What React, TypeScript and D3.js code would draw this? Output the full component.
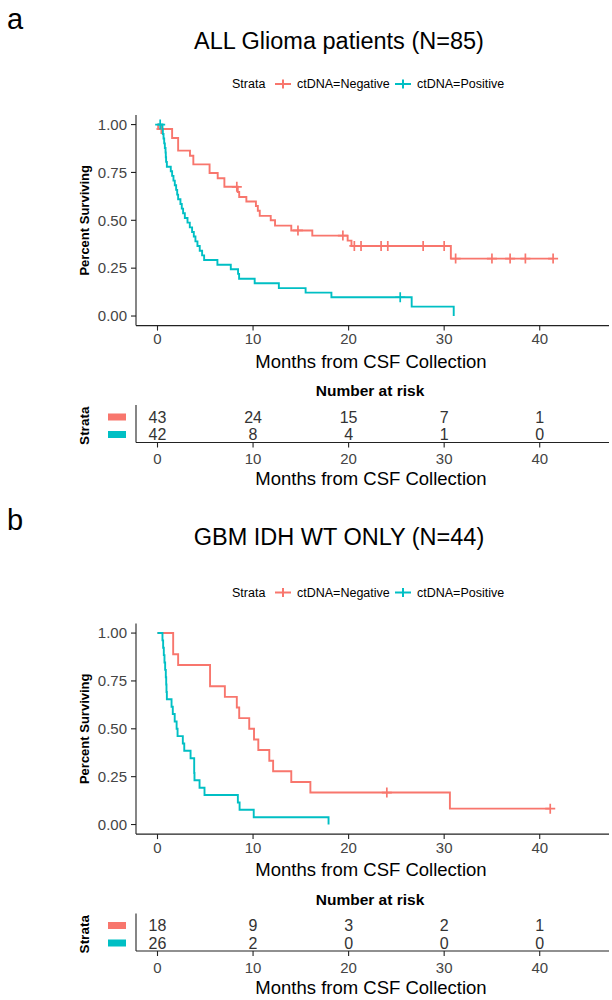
import React from 'react';
import * as d3 from 'd3';

// ---------- shared ----------
const strata = ['ctDNA=Negative', 'ctDNA=Positive'];
const colors = ['#F8766D', '#00BFC4'];
const xTicks = [0, 10, 20, 30, 40];
const yTicks = [0, 0.25, 0.5, 0.75, 1];
const yTickLabels = ['0.00', '0.25', '0.50', '0.75', '1.00'];

// ---------- panel a : ALL Glioma ----------
const aNegTimes = [0.07, 1.53, 2.16, 3.4, 3.75, 5.45, 6.3, 7.0, 8.4, 8.55, 9.3, 10.3, 10.5, 10.7, 11.85, 12.3, 14.0, 16.2, 19.9, 20.3, 30.7];
const aNegSurv = [0.977, 0.93, 0.864, 0.837, 0.792, 0.747, 0.72, 0.675, 0.648, 0.622, 0.598, 0.575, 0.55, 0.523, 0.5, 0.472, 0.447, 0.42, 0.394, 0.366, 0.3];
const aNegCensor = [0.4, 8.3, 14.7, 19.4, 20.6, 21.3, 23.4, 24.1, 27.8, 30.0, 31.2, 35.0, 36.9, 38.5, 41.4];

const aPosTimes = [0.52, 0.56, 0.63, 0.7, 0.77, 0.84, 0.87, 0.9, 0.98, 1.39, 1.53, 1.67, 1.81, 1.95, 2.06, 2.16, 2.4, 2.54, 2.68, 2.86, 3.14, 3.38, 3.62, 3.8, 3.97, 4.18, 4.42, 4.67, 4.88, 6.27, 7.67, 8.43, 8.54, 10.17, 12.7, 15.5, 18.2, 26.6, 31.0];
const aPosSurv = [0.976, 0.951, 0.927, 0.902, 0.878, 0.854, 0.829, 0.805, 0.78, 0.756, 0.732, 0.707, 0.683, 0.659, 0.634, 0.61, 0.585, 0.561, 0.537, 0.512, 0.488, 0.463, 0.439, 0.415, 0.39, 0.366, 0.341, 0.317, 0.293, 0.268, 0.244, 0.22, 0.195, 0.171, 0.146, 0.122, 0.098, 0.049, 0.0];
const aPosCensor = [0.28, 25.4];

const aRiskNeg = [43, 24, 15, 7, 1];
const aRiskPos = [42, 8, 4, 1, 0];

// ---------- panel b : GBM IDH WT ----------
const bNegTimes = [1.64, 2.16, 5.5, 7.05, 8.3, 8.55, 9.6, 10.1, 10.55, 11.7, 12.1, 14.0, 16.0, 30.6];
const bNegSurv = [0.889, 0.833, 0.722, 0.667, 0.611, 0.556, 0.5, 0.444, 0.389, 0.333, 0.278, 0.222, 0.167, 0.083];
const bNegCensor = [24.0, 41.1];

const bPosTimes = [0.52, 0.59, 0.66, 0.73, 0.8, 0.87, 0.91, 0.94, 0.98, 1.47, 1.6, 1.8, 2.0, 2.1, 2.65, 2.8, 3.46, 3.84, 3.87, 4.4, 4.92, 8.41, 8.59, 10.07, 17.9];
const bPosSurv = [0.962, 0.923, 0.885, 0.846, 0.808, 0.769, 0.731, 0.692, 0.654, 0.615, 0.577, 0.538, 0.5, 0.462, 0.423, 0.385, 0.346, 0.269, 0.231, 0.192, 0.154, 0.115, 0.077, 0.038, 0.0];
const bPosCensor: number[] = [];

const bRiskNeg = [18, 9, 3, 2, 1];
const bRiskPos = [26, 2, 0, 0, 0];

const FONT = 'Liberation Sans, Arial, Helvetica, sans-serif';

type Curve = { times: number[]; surv: number[]; censor: number[] };

function survAt(c: Curve, t: number) {
  let s = 1;
  for (let i = 0; i < c.times.length; i++) if (c.times[i] <= t) s = c.surv[i];
  return s;
}

function Panel(props: {
  dy: number;
  titleDy: number;
  letterDy: number;
  letter: string;
  title: string;
  curves: Curve[];
  risk: number[][];
}) {
  const { dy, titleDy, letterDy, letter, title, curves, risk } = props;
  const left = 136, right = 609;
  const x = d3.scaleLinear().domain([-2.25, 47.25]).range([left, right]);
  const top = 115 + dy, bottom = 325.6 + dy;
  const y = d3.scaleLinear().domain([-0.05, 1.05]).range([bottom, top]);
  const line = d3
    .line<[number, number]>()
    .x((d) => x(d[0]))
    .y((d) => y(d[1]))
    .curve(d3.curveStepAfter);

  const tickCol = '#444';
  const axisCol = '#222';

  // risk table geometry
  const rtTitleY = 396 + dy;
  const rowY = [417 + dy, 434.5 + dy];
  const rtAxisY = 442.5 + dy;
  const rtTop = 405 + dy;

  const legY = 84 + dy;

  return (
    <g>
      <text x={7} y={29 + letterDy} fontSize={29} fontFamily={FONT} fill="#000">{letter}</text>
      <text x={339} y={48.5 + titleDy} fontSize={23.5} fontFamily={FONT} textAnchor="middle" fill="#000">{title}</text>

      {/* legend */}
      <g fontFamily={FONT} fontSize={12.5} fill="#000">
        <text x={232} y={legY + 4.3}>Strata</text>
        {[0, 1].map((i) => {
          const cx = i === 0 ? 283 : 403;
          const tx = i === 0 ? 297 : 417;
          return (
            <g key={i}>
              <line x1={cx - 8} x2={cx + 8} y1={legY} y2={legY} stroke={colors[i]} strokeWidth={2} />
              <line x1={cx} x2={cx} y1={legY - 4.5} y2={legY + 4.5} stroke={colors[i]} strokeWidth={2} />
              <text x={tx} y={legY + 4.3}>{strata[i]}</text>
            </g>
          );
        })}
      </g>

      {/* curves */}
      {curves.map((c, i) => {
        const pts: [number, number][] = [[0, 1]];
        c.times.forEach((t, k) => pts.push([t, c.surv[k]]));
        const end = Math.max(c.times[c.times.length - 1], ...(c.censor.length ? c.censor : [0]));
        if (end > c.times[c.times.length - 1]) pts.push([end, c.surv[c.surv.length - 1]]);
        return (
          <g key={i}>
            <path d={line(pts) || ''} fill="none" stroke={colors[i]} strokeWidth={1.9} />
            {c.censor.map((t, k) => (
              <path
                key={k}
                transform={`translate(${x(t)},${y(survAt(c, t))})`}
                d="M-5,0H5M0,-5V5"
                stroke={colors[i]}
                strokeWidth={1.7}
                fill="none"
              />
            ))}
          </g>
        );
      })}

      {/* axes */}
      <line x1={left} x2={left} y1={top} y2={bottom} stroke={axisCol} strokeWidth={1.1} />
      <line x1={left} x2={right} y1={bottom} y2={bottom} stroke={axisCol} strokeWidth={1.1} />
      {yTicks.map((v, k) => (
        <g key={k}>
          <line x1={left - 5} x2={left} y1={y(v)} y2={y(v)} stroke={axisCol} strokeWidth={1.1} />
          <text x={127} y={y(v) + 5.3} fontSize={15} fontFamily={FONT} textAnchor="end" fill={tickCol}>{yTickLabels[k]}</text>
        </g>
      ))}
      {xTicks.map((v) => (
        <g key={v}>
          <line x1={x(v)} x2={x(v)} y1={bottom} y2={bottom + 5} stroke={axisCol} strokeWidth={1.1} />
          <text x={x(v)} y={bottom + 18.5} fontSize={15} fontFamily={FONT} textAnchor="middle" fill={tickCol}>{v}</text>
        </g>
      ))}
      <text x={371} y={367.5 + dy} fontSize={18.5} fontFamily={FONT} textAnchor="middle" fill="#000">Months from CSF Collection</text>
      <text
        transform={`translate(88.5,${(top + bottom) / 2}) rotate(-90)`}
        fontSize={13}
        fontWeight="bold"
        fontFamily={FONT}
        textAnchor="middle"
        fill="#000"
      >Percent Surviving</text>

      {/* risk table */}
      <text x={370} y={rtTitleY} fontSize={15.5} fontWeight="bold" fontFamily={FONT} textAnchor="middle" fill="#000">Number at risk</text>
      <line x1={left} x2={left} y1={rtTop} y2={rtAxisY} stroke={axisCol} strokeWidth={1.1} />
      <line x1={left} x2={right} y1={rtAxisY} y2={rtAxisY} stroke={axisCol} strokeWidth={1.1} />
      {risk.map((row, r) => (
        <g key={r}>
          <rect x={108} y={rowY[r] - 3.5} width={18} height={7} fill={colors[r]} />
          {row.map((n, k) => (
            <text key={k} x={x(xTicks[k])} y={rowY[r] + 5.8} fontSize={16} fontFamily={FONT} textAnchor="middle" fill="#333">{n}</text>
          ))}
        </g>
      ))}
      <text
        transform={`translate(89,${(rowY[0] + rowY[1]) / 2}) rotate(-90)`}
        fontSize={13.5}
        fontWeight="bold"
        fontFamily={FONT}
        textAnchor="middle"
        fill="#000"
      >Strata</text>
      {xTicks.map((v) => (
        <g key={v}>
          <line x1={x(v)} x2={x(v)} y1={rtAxisY} y2={rtAxisY + 5} stroke={axisCol} strokeWidth={1.1} />
          <text x={x(v)} y={rtAxisY + 21.5} fontSize={15} fontFamily={FONT} textAnchor="middle" fill={tickCol}>{v}</text>
        </g>
      ))}
      <text x={371} y={rtAxisY + 42.5} fontSize={18.5} fontFamily={FONT} textAnchor="middle" fill="#000">Months from CSF Collection</text>
    </g>
  );
}

export default function App() {
  const aCurves: Curve[] = [
    { times: aNegTimes, surv: aNegSurv, censor: aNegCensor },
    { times: aPosTimes, surv: aPosSurv, censor: aPosCensor },
  ];
  const bCurves: Curve[] = [
    { times: bNegTimes, surv: bNegSurv, censor: bNegCensor },
    { times: bPosTimes, surv: bPosSurv, censor: bPosCensor },
  ];
  return (
    <svg
      width={612}
      height={1000}
      viewBox="0 0 612 1000"
      style={{ position: 'absolute', left: 0, top: 0, background: '#fff' }}
    >
      <rect width={612} height={1000} fill="#fff" />
      <Panel dy={0} titleDy={0} letterDy={0} letter="a" title="ALL Glioma patients (N=85)" curves={aCurves} risk={[aRiskNeg, aRiskPos]} />
      <Panel dy={508.5} titleDy={496.5} letterDy={500.5} letter="b" title="GBM IDH WT ONLY (N=44)" curves={bCurves} risk={[bRiskNeg, bRiskPos]} />
    </svg>
  );
}
